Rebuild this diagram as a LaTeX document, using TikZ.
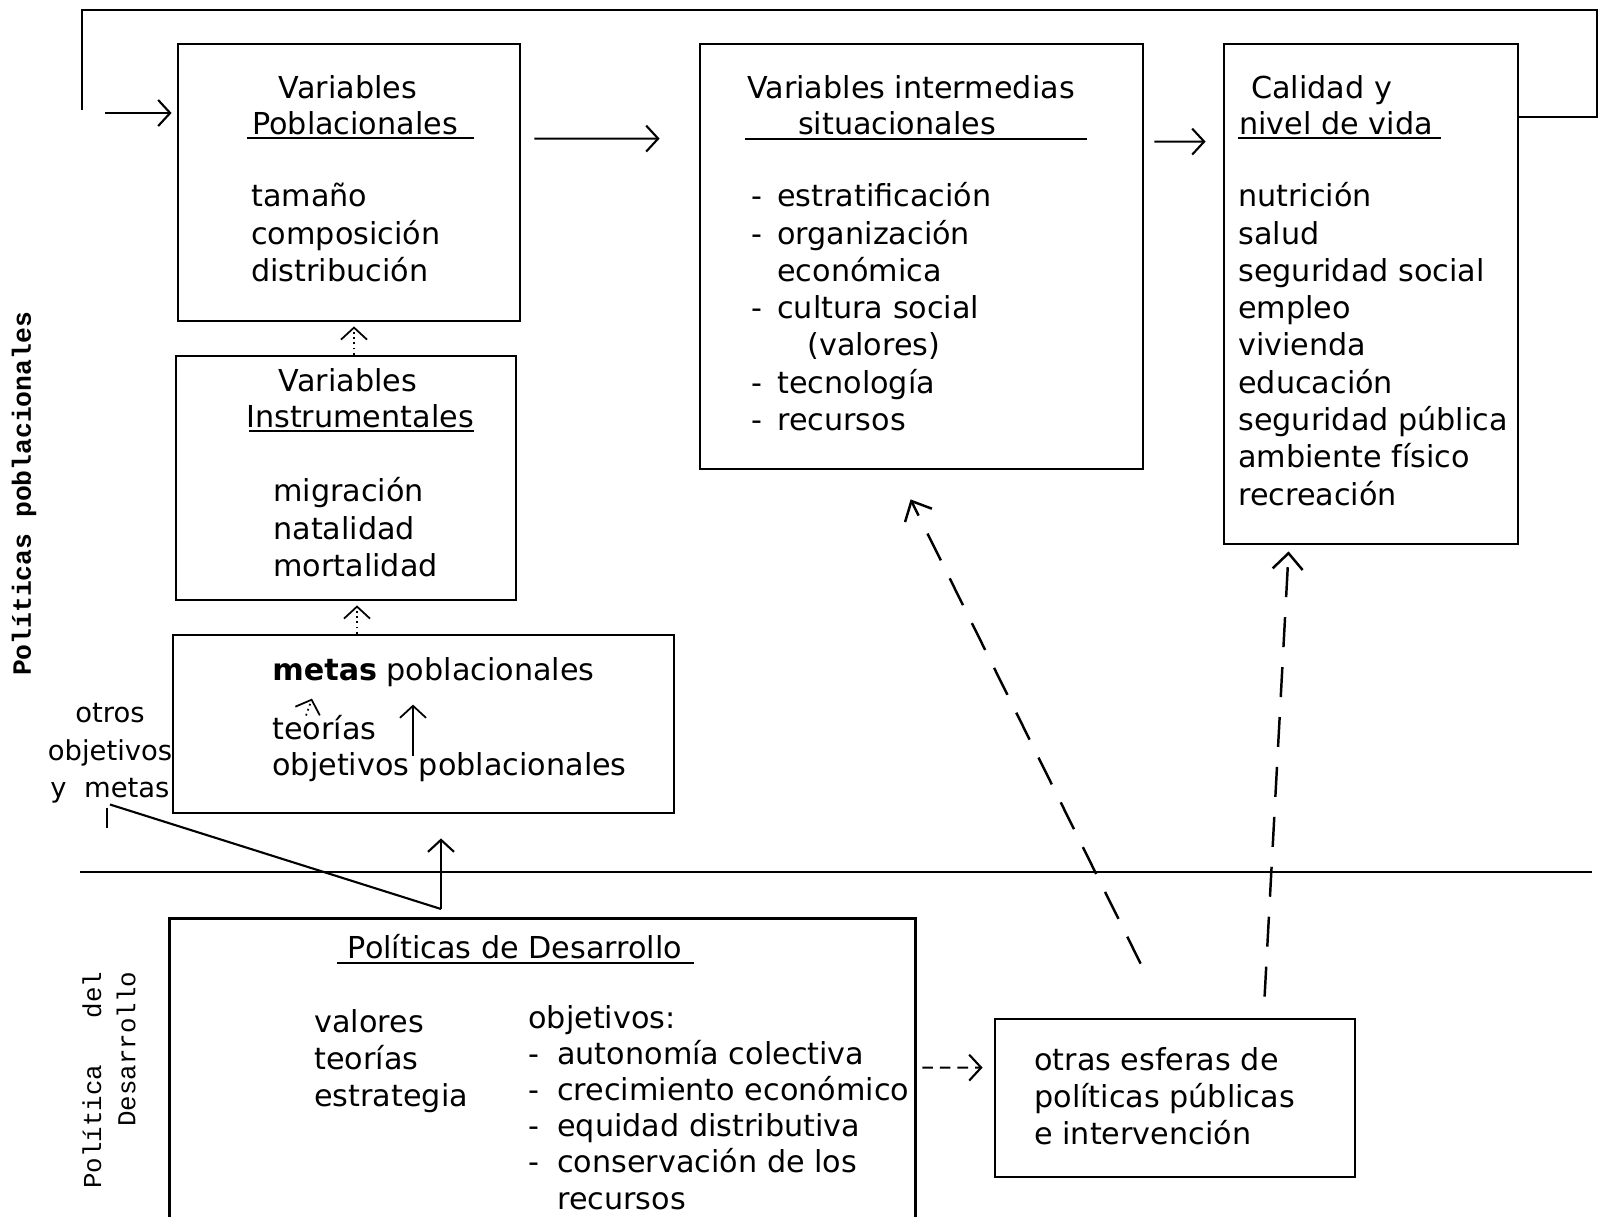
\documentclass[tikz,border=0pt]{standalone}
\usepackage{fontspec}
\setmainfont{DejaVu Sans}
\newfontfamily\maquina{Liberation Mono}
\usetikzlibrary{arrows.meta}
\newcommand{\guion}{\makebox[2.6mm][l]{-}}
\newcommand{\guionb}{\makebox[2.9mm][l]{-}}

\begin{document}
\begin{tikzpicture}[x=0.1mm,y=-0.1mm,line width=0.75pt,
	>={Straight Barb[length=1.2mm,width=2.6mm]},
	caja/.style={draw,line width=0.8pt,inner sep=0},
	txt/.style={anchor=base west,inner sep=0,align=left,font=\fontsize{8.6}{10.6}\selectfont},
	tit/.style={anchor=base,inner sep=0,font=\fontsize{8.6}{10.6}\selectfont},
	flecha/.style={->,line width=0.6pt},
	trazos/.style={-{Straight Barb[length=1.6mm,width=3mm]},line width=0.7pt,dash pattern=on 3mm off 2mm},
	puntos/.style={->,line width=0.5pt,densely dotted}]
	\useasboundingbox (0,0) rectangle (1600,1217);
	\node[caja,minimum width=34.2mm,minimum height=27.7mm] (VP) at (349,182.5) {};
	\node[caja,minimum width=44.3mm,minimum height=42.5mm] (VI) at (921.5,256.5) {};
	\node[caja,minimum width=29.4mm,minimum height=50mm] (CV) at (1371,294) {};
	\node[caja,minimum width=34mm,minimum height=24.4mm] (VIn) at (346,478) {};
	\node[caja,minimum width=50.1mm,minimum height=17.8mm] (metas) at (423.5,724) {};
	\node[inner sep=0,minimum width=74.3mm,minimum height=29.7mm] (PD) at (542.5,1068.5) {};
	\draw[line width=0.8pt] (PD.south west) -- (PD.north west) -- (PD.north east) -- (PD.south east);
	\node[caja,minimum width=36mm,minimum height=15.8mm] (OE) at (1175,1098) {};

	\node[tit] (vp-t1) at (348,98) {Variables};
	\node[tit] (vp-t2) at (355,134) {Poblacionales};
	\draw (247,138) -- (474,138);
	\node[txt] (vp-l) at (250,281.5) {tamaño\\composición\\distribución};

	\node[tit] (vi-t1) at (911,98) {Variables intermedias};
	\node[tit] (vi-t2) at (897,134) {situacionales};
	\draw (745,139) -- (1087,139);
	\node[txt] (vi-l) at (750,430.5) {\guion estratificación\\\guion organización\\\hspace*{2.6mm}económica\\\guion cultura social\\\hspace*{5.6mm}(valores)\\\guion tecnología\\\guion recursos};

	\node[txt] (cv-t1) at (1250,98) {Calidad y};
	\node[txt] (cv-t2) at (1238,134) {nivel de vida};
	\draw (1238,138) -- (1441,138);
	\node[txt] (cv-l) at (1237,505) {nutrición\\salud\\seguridad social\\empleo\\vivienda\\educación\\seguridad pública\\ambiente físico\\recreación};

	\node[tit] (vin-t1) at (348,391) {Variables};
	\node[tit] (vin-t2) at (360,427) {Instrumentales};
	\draw (249,431) -- (474,431);
	\node[txt] (vin-l) at (272,576.5) {migración\\natalidad\\mortalidad};

	\node[txt] (mp) at (271,680) {\textbf{metas} poblacionales};
	\node[txt] (teo) at (271,739) {teorías};
	\node[txt] (objp) at (271,775) {objetivos poblacionales};
	\node[txt,anchor=base,align=center,font=\fontsize{7.8}{10.6}\selectfont] (otros) at (110,797.5) {otros\\objetivos\\y\ \ metas};

	\node[tit] (pd-t) at (515,958) {Políticas de Desarrollo};
	\draw (337,963) -- (694,963);
	\node[txt] (pd-a) at (313,1106.5) {valores\\teorías\\estrategia};
	\node[txt,font=\fontsize{8.6}{10.3}\selectfont] (pd-b) at (527,1209) {objetivos:\\\guionb autonomía colectiva\\\guionb crecimiento económico\\\guionb equidad distributiva\\\guionb conservación de los\\\hspace*{2.9mm}recursos};

	\node[txt] (oe-l) at (1033,1144.5) {otras esferas de\\políticas públicas\\e intervención};

	\node[font=\maquina\bfseries\fontsize{7.5}{9}\selectfont,rotate=90,inner sep=0] (pobl) at (24,494) {Políticas poblacionales};
	\node[font=\maquina\fontsize{7.35}{9.7}\selectfont,rotate=90,align=right,inner sep=0] (desa) at (109,1080) {Política\ \ \ del\\Desarrollo};

	\draw (80,872) -- (1592,872);

	\coordinate (retorno) at (105,113);
	\draw (CV.east |- 0,117) -- (1597,117) -- (1597,10) -- (82,10) -- (82,110);
	\draw[flecha,shorten >=0.5mm] (retorno) -- (VP.west |- retorno);
	\draw[flecha] ([shift={(13,96)}]VP.north east) -- ([shift={(-39,96)}]VI.north west);
	\draw[flecha] ([shift={(10,99)}]VI.north east) -- ([shift={(-17,99)}]CV.north west);
	\draw[puntos,shorten >=0.4mm] ([xshift=0.8mm]VIn.north) -- ([xshift=0.8mm]VIn.north |- VP.south);
	\draw[puntos,shorten >=0.4mm] ([xshift=1.1mm]VIn.south |- metas.north) -- ([xshift=1.1mm]VIn.south);
	\draw[puntos] ([shift={(35,2)}]teo.north west) -- ([shift={(41,11)}]mp.south west);
	\draw[flecha,line width=0.5pt] ([shift={(142,5)}]objp.north west) -- ([shift={(142,17)}]mp.south west);

	\coordinate (junta) at (441,909);
	\draw[line width=0.6pt] (otros.south) -- (junta);
	\draw[line width=0.6pt] ([shift={(-3,3)}]otros.south) -- ([shift={(-3,23)}]otros.south);
	\draw[flecha,shorten >=2.4mm] (junta) -- (junta |- metas.south);

	\draw[trazos] ([shift={(147,-54)}]OE.north west) -- ([shift={(212,29)}]VI.south west);
	\draw[trazos] ([shift={(271,-21)}]OE.north west) -- ([shift={(66,6)}]CV.south west);
	\draw[flecha,densely dashed] ([shift={(7,149)}]PD.north east) -- ([shift={(-11,50)}]OE.north west);
\end{tikzpicture}
\end{document}
